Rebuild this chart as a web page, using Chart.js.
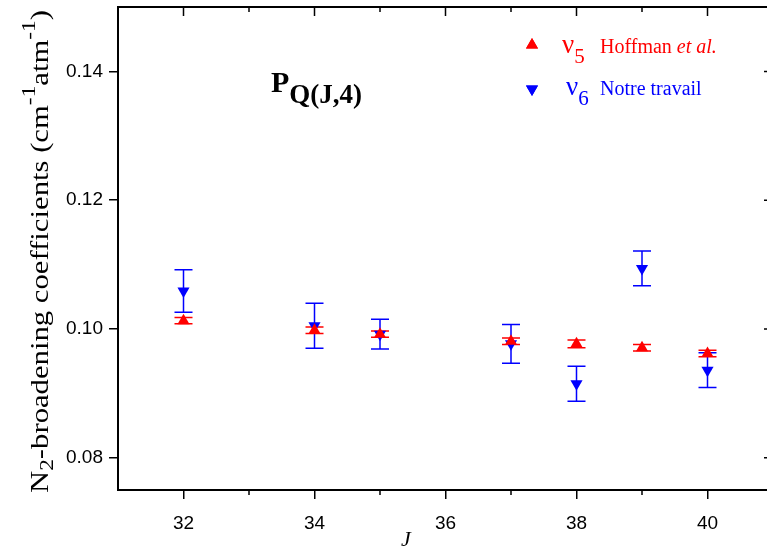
<!DOCTYPE html>
<html>
<head>
<meta charset="utf-8">
<script src="https://cdn.jsdelivr.net/npm/chart.js@4.4.1/dist/chart.umd.min.js"></script>
<style>
body { margin: 0; background: #fff; }
#wrap { width: 767px; height: 550px; overflow: hidden; }
</style>
</head>
<body>
<!-- canvas is a bit wider than the window: the right frame sits just outside the picture, as in the original -->
<div id="wrap"><canvas id="myChart" width="780" height="550"></canvas></div>
<script>
// J values shared by both series
var J = [32, 34, 35, 37, 38, 39, 40];
// nu5, Hoffman et al.
var hoffman = [0.1013, 0.0998, 0.0992, 0.0981, 0.0977, 0.0971, 0.0962];
var hoffmanErr = [0.0005, 0.0005, 0.0005, 0.0005, 0.0006, 0.0005, 0.0005];
// nu6, notre travail
var notre = [0.1059, 0.1005, 0.0992, 0.0977, 0.0915, 0.1094, 0.0936];
var notreErr = [0.0033, 0.0035, 0.0023, 0.0030, 0.0027, 0.0027, 0.0027];
var xTicks = [32, 34, 36, 38, 40];
var xMinor = [33, 35, 37, 39];
var yTicks = [0.08, 0.10, 0.12, 0.14];

var serif = '"Liberation Serif", "DejaVu Serif", serif';
var sans = '"Liberation Sans", Arial, sans-serif';

function points(vals) {
	return J.map(function(j, i) { return { x: j, y: vals[i] }; });
}

function errBars(chart, vals, errs, color) {
	var ctx = chart.ctx, xs = chart.scales.x, ys = chart.scales.y;
	ctx.save();
	ctx.strokeStyle = color;
	ctx.lineWidth = 1.5;
	for (var i = 0; i < J.length; i++) {
		var x = xs.getPixelForValue(J[i]);
		var y1 = ys.getPixelForValue(vals[i] + errs[i]);
		var y2 = ys.getPixelForValue(vals[i] - errs[i]);
		ctx.beginPath();
		ctx.moveTo(x, y1); ctx.lineTo(x, y2);
		ctx.moveTo(x - 9, y1); ctx.lineTo(x + 9, y1);
		ctx.moveTo(x - 9, y2); ctx.lineTo(x + 9, y2);
		ctx.stroke();
	}
	ctx.restore();
}

// draws pieces of text one after another, with sub/superscripts
function richText(ctx, parts, x, y) {
	parts.forEach(function(p) {
		ctx.font = p.font;
		ctx.fillStyle = p.color || '#000';
		if (p.x !== undefined) x = p.x;
		ctx.fillText(p.t, x, y + (p.dy || 0));
		x += ctx.measureText(p.t).width + (p.gap || 0);
	});
	return x;
}
function richWidth(ctx, parts) {
	var w = 0;
	parts.forEach(function(p) { ctx.font = p.font; w += ctx.measureText(p.t).width + (p.gap || 0); });
	return w;
}

var extras = {
	id: 'extras',
	beforeDatasetsDraw: function(chart) {
		errBars(chart, notre, notreErr, '#0000ff');
		errBars(chart, hoffman, hoffmanErr, '#ff0000');
	},
	afterDraw: function(chart) {
		var ctx = chart.ctx, a = chart.chartArea;
		var xs = chart.scales.x, ys = chart.scales.y;
		ctx.save();
		// frame top and right
		ctx.strokeStyle = '#000';
		ctx.lineWidth = 2;
		ctx.beginPath();
		ctx.moveTo(a.left, a.top); ctx.lineTo(a.right, a.top); ctx.lineTo(a.right, a.bottom);
		ctx.stroke();
		// ticks: inner on top/right, minor outward on bottom
		ctx.lineWidth = 1.5;
		ctx.beginPath();
		xTicks.forEach(function(v) {
			var x = xs.getPixelForValue(v);
			ctx.moveTo(x, a.top); ctx.lineTo(x, a.top + 9);
		});
		xMinor.forEach(function(v) {
			var x = xs.getPixelForValue(v);
			ctx.moveTo(x, a.top); ctx.lineTo(x, a.top + 5);
			ctx.moveTo(x, a.bottom); ctx.lineTo(x, a.bottom + 5);
		});
		yTicks.forEach(function(v) {
			var y = ys.getPixelForValue(v);
			ctx.moveTo(a.right, y); ctx.lineTo(a.right - 9, y);
		});
		ctx.stroke();

		ctx.textBaseline = 'alphabetic';
		ctx.textAlign = 'left';

		// x title
		ctx.font = 'italic 22px ' + serif;
		ctx.fillStyle = '#000';
		ctx.fillText('J', 401, 546);

		// y title, rotated and stretched to the reference length
		var big = '25px ' + serif, small = '19px ' + serif;
		var yt = [
			{ t: 'N', font: big },
			{ t: '2', font: small, dy: 5 },
			{ t: '-broadening coefficients (cm', font: big },
			{ t: '-1', font: small, dy: -13 },
			{ t: 'atm', font: big },
			{ t: '-1', font: small, dy: -13 },
			{ t: ')', font: big }
		];
		var w = richWidth(ctx, yt);
		var sx = 483 / w;
		ctx.save();
		ctx.translate(48, 493);
		ctx.rotate(-Math.PI / 2);
		ctx.scale(sx, 1);
		richText(ctx, yt, 0, 0);
		ctx.restore();

		// panel label
		richText(ctx, [
			{ t: 'P', font: 'bold 30px ' + serif },
			{ t: 'Q(J,4)', font: 'bold 27px ' + serif, dy: 11 }
		], 271, 92);

		// legend
		ctx.fillStyle = '#ff0000';
		Chart.helpers.drawPoint(ctx, { pointStyle: 'triangle', radius: 7, rotation: 0, borderWidth: 0 }, 532, 45);
		ctx.fill();
		richText(ctx, [
			{ t: 'ν', font: '27px ' + serif, color: '#ff0000' },
			{ t: '5', font: '21px ' + serif, color: '#ff0000', dy: 10 },
			{ t: 'Hoffman ', font: '20px ' + serif, color: '#ff0000', x: 600 },
			{ t: 'et al.', font: 'italic 20px ' + serif, color: '#ff0000' }
		], 562, 53);
		ctx.fillStyle = '#0000ff';
		Chart.helpers.drawPoint(ctx, { pointStyle: 'triangle', radius: 7, rotation: 180, borderWidth: 0 }, 532, 89);
		ctx.fill();
		richText(ctx, [
			{ t: 'ν', font: '27px ' + serif, color: '#0000ff' },
			{ t: '6', font: '21px ' + serif, color: '#0000ff', dy: 10 },
			{ t: 'Notre travail', font: '20px ' + serif, color: '#0000ff', x: 600 }
		], 566, 95);
		ctx.restore();
	}
};

var ctx = document.getElementById('myChart').getContext('2d');
var myChart = new Chart(ctx, {
	type: 'scatter',
	data: {
		datasets: [{
			label: 'ν5 Hoffman et al.',
			data: points(hoffman),
			pointStyle: 'triangle',
			pointRadius: 7,
			backgroundColor: '#ff0000',
			borderColor: '#ff0000',
			borderWidth: 0
		}, {
			label: 'ν6 Notre travail',
			data: points(notre),
			pointStyle: 'triangle',
			rotation: 180,
			pointRadius: 7,
			backgroundColor: '#0000ff',
			borderColor: '#0000ff',
			borderWidth: 0
		}]
	},
	options: {
		responsive: false,
		animation: false,
		layout: { padding: { top: 7, left: 0, right: 0, bottom: 0 } },
		plugins: { legend: { display: false }, tooltip: { enabled: false } },
		scales: {
			x: {
				type: 'linear',
				min: 31,
				max: 41,
				afterBuildTicks: function(s) { s.ticks = xTicks.map(function(v) { return { value: v }; }); },
				afterFit: function(s) { s.height = 60; s.paddingLeft = 0; s.paddingRight = 0; },
				grid: { drawOnChartArea: false, drawTicks: true, tickLength: 9, color: '#000', lineWidth: 1.5 },
				border: { color: '#000', width: 2 },
				ticks: { color: '#000', padding: 13, maxRotation: 0, font: { family: sans, size: 19 } }
			},
			y: {
				min: 0.075,
				max: 0.15,
				afterBuildTicks: function(s) { s.ticks = yTicks.map(function(v) { return { value: v }; }); },
				afterFit: function(s) { s.width = 118; s.paddingTop = 0; s.paddingBottom = 0; },
				grid: { drawOnChartArea: false, drawTicks: true, tickLength: 9, color: '#000', lineWidth: 1.5 },
				border: { color: '#000', width: 2 },
				ticks: {
					color: '#000', padding: 6,
					font: { family: sans, size: 19 },
					callback: function(v) { return v.toFixed(2); }
				}
			}
		}
	},
	plugins: [extras]
});
</script>
</body>
</html>
